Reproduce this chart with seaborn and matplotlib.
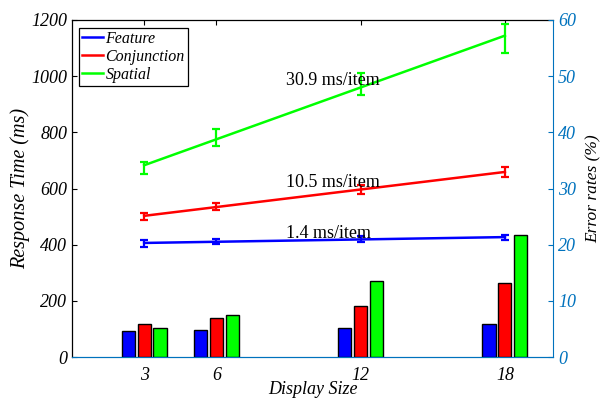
import numpy as np
import pandas as pd
import matplotlib
matplotlib.use("Agg")
import matplotlib.pyplot as plt
import seaborn as sns

display_sizes = [3, 6, 12, 18]
conditions = ["Feature", "Conjunction", "Spatial"]
rt_feature = [405, 411, 420, 426]
rt_conjunction = [500, 537, 597, 658]
rt_spatial = [672, 782, 973, 1135]
sem_feature = [12, 10, 10, 10]
sem_conjunction = [11, 12, 15, 18]
sem_spatial = [21, 30, 40, 52]
err_feature = [4.6, 4.75, 5.2, 5.9]
err_conjunction = [5.9, 6.9, 9.0, 13.2]
err_spatial = [5.1, 7.4, 13.5, 21.7]
slope_labels = ["1.4 ms/item", "10.5 ms/item", "30.9 ms/item"]

colors = {"Feature": "#0000FF", "Conjunction": "#FF0000", "Spatial": "#00FF00"}
axis_blue = "#0072BD"

plt.rcParams["font.family"] = ["Liberation Serif", "DejaVu Serif"]

fig = plt.figure(figsize=(6.01, 4.05), dpi=100)
ax1 = fig.add_axes([72 / 601, 48 / 405, 481 / 601, 337 / 405])
ax2 = ax1.twinx()

# Bars: error rates on right axis
bar_df = pd.DataFrame({
    "size": display_sizes * 3,
    "error": err_feature + err_conjunction + err_spatial,
    "cond": [c for c in conditions for _ in display_sizes],
})
sns.barplot(data=bar_df, x="size", y="error", hue="cond", hue_order=conditions,
            palette=colors, native_scale=True, dodge=True, width=0.66, gap=0.17,
            errorbar=None, edgecolor="black", linewidth=1.0, saturation=1,
            legend=False, ax=ax2)

# Lines: regression fits with error bars on left axis
rt = {"Feature": rt_feature, "Conjunction": rt_conjunction, "Spatial": rt_spatial}
sem = {"Feature": sem_feature, "Conjunction": sem_conjunction, "Spatial": sem_spatial}
for c in conditions:
    sns.regplot(x=np.array(display_sizes), y=np.array(rt[c]), ci=None, scatter=False,
                truncate=True, color=colors[c], line_kws={"lw": 1.8}, label=c, ax=ax1)
    ax1.errorbar(display_sizes, rt[c], yerr=sem[c], fmt="none", ecolor=colors[c],
                 elinewidth=1.6, capsize=3, capthick=1.6)

# Slope annotations
ax1.text(8.9, 441, slope_labels[0], fontsize=13, va="center", ha="left", color="black")
ax1.text(8.9, 620, slope_labels[1], fontsize=13, va="center", ha="left", color="black")
ax1.text(8.9, 986, slope_labels[2], fontsize=13, va="center", ha="left", color="black")

ax1.set_xlim(0, 20)
ax1.set_ylim(0, 1200)
ax2.set_ylim(0, 60)
ax1.set_xticks(display_sizes)
ax1.set_xticklabels([str(s) for s in display_sizes], fontstyle="italic", fontsize=13)
ax1.set_yticks(range(0, 1201, 200))
ax1.set_yticklabels([str(v) for v in range(0, 1201, 200)], fontstyle="italic", fontsize=13)
ax2.set_yticks(range(0, 61, 10))
ax2.set_yticklabels([str(v) for v in range(0, 61, 10)], fontstyle="italic", fontsize=13)
ax2.set_xlabel("")

ax1.tick_params(axis="both", direction="in", length=3.5, top=True, right=False, width=0.8)
ax1.tick_params(axis="x", bottom=False, pad=7)
ax2.tick_params(axis="y", direction="in", length=3.5, colors=axis_blue, width=0.8)

ax1.set_xlabel("Display Size", fontstyle="italic", fontsize=13)
ax1.set_ylabel("Response Time (ms)", fontstyle="italic", fontsize=14.5)
ax2.set_ylabel("Error rates (%)", fontstyle="italic", fontsize=12.5, rotation=90)
ax1.xaxis.set_label_coords(0.5, -24 / 337)
ax1.yaxis.set_label_coords(-42 / 481, 0.5)
ax2.yaxis.set_label_coords(1 + 33 / 481, 0.5)

for sp in ["left", "top"]:
    ax1.spines[sp].set_color("black")
    ax1.spines[sp].set_linewidth(0.9)
ax2.spines["right"].set_color(axis_blue)
ax2.spines["bottom"].set_color(axis_blue)
ax2.spines["left"].set_visible(False)
ax2.spines["top"].set_visible(False)
ax1.spines["right"].set_visible(False)
ax1.spines["bottom"].set_color(axis_blue)

leg = ax1.legend(loc="upper left", bbox_to_anchor=(0.015, 0.977), frameon=True, fancybox=False,
                 edgecolor="black", framealpha=1, fontsize=11.5, handlelength=1.3,
                 handletextpad=0.15, labelspacing=0.12, borderpad=0.2, borderaxespad=0)
for t in leg.get_texts():
    t.set_fontstyle("italic")
leg.get_frame().set_linewidth(0.9)
leg.set_zorder(5)

fig.savefig("out.png", dpi=100)
